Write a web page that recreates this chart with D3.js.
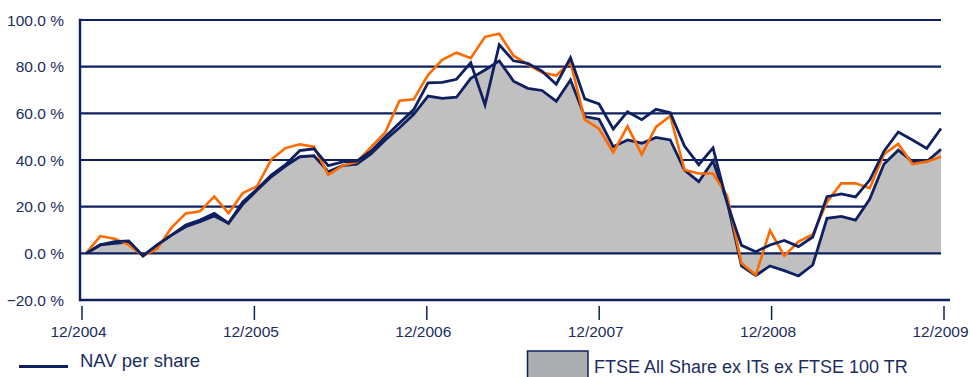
<!DOCTYPE html>
<html><head><meta charset="utf-8">
<script src="https://cdn.jsdelivr.net/npm/d3@7"></script>
<style>
html,body{margin:0;padding:0;background:#fff;overflow:hidden;}
svg{display:block;font-family:"Liberation Sans",Arial,sans-serif;}
</style></head>
<body><svg id="chart" width="970" height="377"></svg>
<script>
// Monthly points, 12/2004 .. 12/2009 (61 points), % change
const navPerShare = [0,3.6,5,5.3,-1.1,3.6,7.8,12.1,14.3,17.1,12.9,22,27.5,33.5,38,44,44.8,37.6,39.2,39.5,43.8,50,55.8,61.6,73.1,73.3,74.6,81.7,63.6,89.4,82.5,81.4,78.1,72.5,83.8,66.2,64,53.3,60.7,57.3,61.7,60.3,46,38,45.2,21.4,3.4,0.7,3.6,5.5,2.9,7,24.3,25.5,24.2,31.4,43.8,52,48.6,45,53.5];
const sharePrice = [0,7.4,6.3,3.6,-1.1,2,11,17.1,18,24.4,17.2,25.8,28.7,40.2,45.1,46.7,45.7,33.6,37.6,39.1,45.5,51.8,65.4,66,76.4,82.9,86,83.6,92.8,94.1,84.7,81,77.5,76.2,81.9,57.3,53.4,43.3,54.4,42.4,54.2,58.9,35.7,34.2,34.2,24.6,-4.3,-9.3,9.8,-1.1,5,8.1,22,30,30,27.9,42.5,46.9,38.3,39.3,41.4];
const ftseIndex = [0,3.6,4.3,4.8,-1.1,3.6,7.8,11.4,13.6,16,12.9,21,27,32.8,37.4,41.4,41.8,35,37.6,38.2,42.6,48.6,53.8,59.6,67.4,66.4,66.9,75,78.6,82.5,73.8,70.7,69.8,65.2,74.3,58.6,57.5,45.7,48.6,47.2,49.7,48.6,35.7,30.7,39.6,22,-5.4,-9.5,-5.4,-7.4,-9.7,-5,15,15.8,14.2,23.3,38.3,44.2,39.3,39.3,44.6];
const xTickLabels = ["12/2004","12/2005","12/2006","12/2007","12/2008","12/2009"];
const yTicks = [-20,0,20,40,60,80,100];
const legendItems = ["NAV per share","FTSE All Share ex ITs ex FTSE 100 TR"];

const NAVY = "#0e2060", TEXT = "#1b2d5e", ORANGE = "#ff6a00", GRAY = "#c0c0c0";
const svg = d3.select("#chart");

const x = d3.scaleLinear().domain([0, navPerShare.length - 1]).range([86, 941]);
const xAxisScale = d3.scaleLinear().domain([0, xTickLabels.length - 1]).range([82, 944]);
const y = d3.scaleLinear().domain([-20, 100]).range([300, 20]);

// gridlines (behind area)
svg.append("g").selectAll("line").data(yTicks.filter(v => v > 0)).join("line")
  .attr("x1", 80).attr("x2", 941)
  .attr("y1", d => y(d)).attr("y2", d => y(d))
  .attr("stroke", NAVY).attr("stroke-width", 2.2);

// area
const area = d3.area().x((d, i) => x(i)).y0(y(0)).y1(d => y(d));
svg.append("path").datum(ftseIndex).attr("d", area).attr("fill", GRAY);
const line = d3.line().x((d, i) => x(i)).y(d => y(d));

// zero line & bottom line & left axis
svg.append("line").attr("x1", 80).attr("x2", 941).attr("y1", y(0)).attr("y2", y(0))
  .attr("stroke", NAVY).attr("stroke-width", 2.4);
svg.append("line").attr("x1", 80).attr("x2", 950).attr("y1", y(-20)).attr("y2", y(-20))
  .attr("stroke", NAVY).attr("stroke-width", 2.4);
svg.append("line").attr("x1", 80).attr("x2", 80).attr("y1", y(100) - 1.2).attr("y2", y(-20) + 1.2)
  .attr("stroke", NAVY).attr("stroke-width", 2.4);

svg.append("path").datum(ftseIndex).attr("d", line).attr("fill", "none")
  .attr("stroke", NAVY).attr("stroke-width", 2.8);
svg.append("path").datum(sharePrice).attr("d", line).attr("fill", "none")
  .attr("stroke", ORANGE).attr("stroke-width", 2.6);
svg.append("path").datum(navPerShare).attr("d", line).attr("fill", "none")
  .attr("stroke", NAVY).attr("stroke-width", 2.8);

// y labels
svg.append("g").selectAll("text").data(yTicks).join("text")
  .attr("x", 64).attr("y", d => y(d)).attr("dy", "0.36em")
  .attr("text-anchor", "end").attr("fill", TEXT).attr("font-size", "15.5px")
  .text(d => d3.format(".1f")(d) + " %");

// x ticks
const xg = svg.append("g");
xg.selectAll("line").data(xTickLabels).join("line")
  .attr("x1", (d, i) => xAxisScale(i)).attr("x2", (d, i) => xAxisScale(i))
  .attr("y1", 306).attr("y2", 320).attr("stroke", NAVY).attr("stroke-width", 1.5);
xg.selectAll("text").data(xTickLabels).join("text")
  .attr("x", (d, i) => xAxisScale(i) - 3.5).attr("y", 336.5)
  .attr("text-anchor", "middle").attr("fill", TEXT).attr("font-size", "15.5px")
  .text(d => d);

// legend
const lg = svg.append("g");
lg.append("line").attr("x1", 19).attr("x2", 68).attr("y1", 366.5).attr("y2", 366.5)
  .attr("stroke", NAVY).attr("stroke-width", 3);
lg.append("text").attr("x", 80).attr("y", 366.7).attr("fill", TEXT).attr("font-size", "18.5px")
  .text(legendItems[0]);
lg.append("rect").attr("x", 527.5).attr("y", 351).attr("width", 60.5).attr("height", 40)
  .attr("fill", "#abaeb1").attr("stroke", NAVY).attr("stroke-width", 1.5);
lg.append("text").attr("x", 594).attr("y", 373).attr("fill", TEXT).attr("font-size", "18px")
  .text(legendItems[1]);
</script></body></html>
